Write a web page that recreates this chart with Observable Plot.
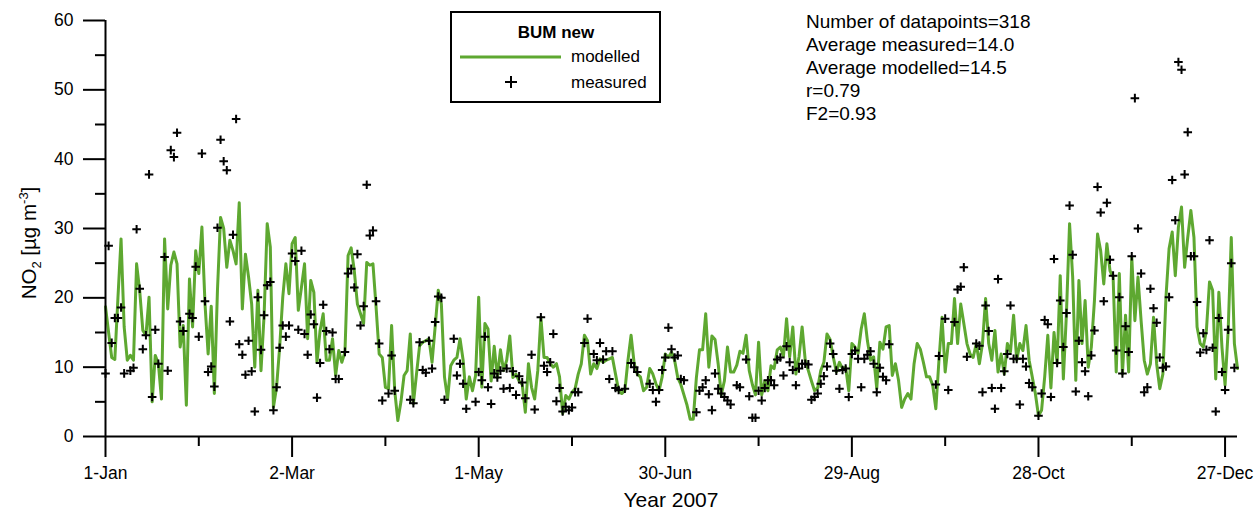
<!DOCTYPE html>
<html><head><meta charset="utf-8">
<script src="https://cdn.jsdelivr.net/npm/d3@7"></script>
<script src="https://cdn.jsdelivr.net/npm/@observablehq/plot@0.6"></script>
<style>
body{margin:0;background:#fff;}
#chart{width:1259px;height:515px;}
</style></head><body><div id="chart"></div>
<script>
// Modelled NO2, one value per day of 2007 (index = day offset from 1-Jan)
const modelledValues = [
18.7,15.0,11.4,11.1,20.0,28.5,15.8,11.0,11.7,11.0,
24.9,21.0,15.3,14.6,20.1,5.0,11.7,10.5,5.4,28.5,
18.4,24.7,26.6,24.9,12.9,16.0,4.5,22.7,15.8,26.8,
23.5,30.2,19.1,11.9,18.8,6.2,21.1,31.6,30.0,24.4,
28.3,26.8,24.9,33.7,18.4,26.3,23.0,19.1,10.0,21.1,
9.5,17.5,30.7,27.3,4.2,7.1,12.9,20.1,24.9,20.6,
27.8,28.7,18.2,21.5,24.9,14.1,22.5,20.8,10.7,15.3,
17.7,11.0,11.0,14.1,8.8,12.4,10.7,12.2,26.1,27.2,
23.9,19.1,17.7,16.3,25.1,24.7,24.9,18.7,11.9,11.4,
7.1,6.9,16.0,6.6,2.3,5.0,8.8,9.5,14.8,4.7,
9.0,13.1,13.6,13.8,14.1,10.7,15.8,21.1,19.1,8.6,
5.4,10.2,11.0,11.4,14.1,11.0,5.4,8.6,6.6,8.8,
20.1,7.1,16.3,15.5,8.0,13.0,8.5,12.5,9.5,11.0,
14.5,8.5,9.0,8.0,7.5,3.5,10.5,7.1,5.4,9.5,
17.2,11.4,11.4,10.5,10.0,10.5,8.6,3.3,5.9,5.4,
6.4,6.9,9.0,10.5,14.6,13.8,9.0,10.5,9.8,11.2,
10.7,11.0,11.2,11.4,9.0,6.6,6.2,6.6,11.0,14.6,
10.5,9.0,8.6,6.6,7.1,9.8,9.0,7.6,6.6,8.6,
11.9,11.4,12.2,11.0,8.5,7.5,6.0,4.5,2.5,2.5,
8.5,12.5,12.5,17.7,10.0,14.5,14.0,10.5,6.0,8.0,
12.9,9.3,9.3,10.3,12.3,12.0,14.6,9.5,7.5,6.0,
13.6,6.0,8.0,6.6,10.2,9.8,12.5,12.9,11.6,17.0,
11.5,15.8,9.0,11.5,15.8,11.0,9.5,8.0,6.6,7.0,
9.5,10.7,14.8,14.0,11.5,9.3,10.7,9.8,10.0,6.6,
13.4,12.9,12.0,15.5,17.7,13.8,11.0,11.5,6.9,13.6,
12.6,15.8,16.0,8.8,10.5,8.1,4.2,5.4,6.2,5.4,
10.5,13.4,12.6,10.7,8.6,8.6,7.4,4.0,11.0,17.2,
9.3,13.4,13.4,19.9,13.4,19.1,16.3,13.4,11.9,11.4,
13.4,10.5,13.4,19.9,13.4,11.0,15.3,9.3,11.9,9.0,
13.4,12.2,17.5,11.0,13.4,12.4,16.0,11.0,8.6,6.2,
3.0,3.8,8.6,14.6,7.0,15.0,10.5,23.2,8.3,17.8,
30.7,23.0,8.1,22.5,13.4,19.6,10.0,12.9,19.6,29.2,
26.8,22.0,27.8,23.9,23.0,9.3,23.5,9.0,17.5,9.3,
25.9,16.7,23.0,16.7,11.0,9.0,10.5,17.2,10.5,6.9,
9.0,20.1,27.1,29.5,23.2,30.2,33.1,24.4,28.7,32.6,
28.7,15.8,13.4,12.9,15.3,22.3,21.1,8.3,20.8,12.9,
7.4,15.3,28.7,13.4,9.8
];

// Measured NO2: day offset from 1-Jan and value
const measuredDays = [
0,1,2,3,4,5,6,8,9,10,11,12,13,14,15,16,17,19,20,21,22,23,24,25,27,28,29,30,31,32,33,34,35,36,37,38,39,40,41,42,43,44,45,46,47,48,49,50,51,52,53,54,55,56,57,58,59,
60,61,62,63,64,65,66,67,68,69,70,71,72,73,74,75,77,78,79,80,81,82,83,84,85,86,87,88,89,91,92,93,98,99,101,102,103,104,105,106,107,108,109,112,113,114,115,116,119,
120,121,122,123,124,125,126,127,128,129,130,131,132,133,134,135,137,138,140,141,142,143,144,145,146,147,148,149,150,151,152,154,155,157,158,159,160,161,162,163,164,165,167,169,170,171,175,176,177,178,179,
180,181,182,183,184,185,186,190,191,192,193,194,195,196,197,198,199,200,201,203,204,206,207,208,209,210,211,212,213,214,215,216,217,218,219,220,221,222,223,224,225,226,227,228,229,230,231,232,233,234,235,236,237,238,239,
240,241,242,243,244,245,246,247,248,249,250,251,252,267,268,270,271,273,274,275,276,277,280,281,282,283,284,285,286,287,288,289,290,291,292,293,294,295,296,297,298,
300,301,302,303,304,305,306,307,308,309,310,311,312,313,314,315,316,317,318,319,320,321,322,323,324,325,326,327,328,329,330,331,332,333,334,335,336,337,338,339,340,341,342,343,344,345,346,347,348,349,350,351,352,353,354,355,356,357,358,359,360,361,362,363
];
const measuredValues = [
9.1,27.5,13.5,17.1,17.1,18.6,9.1,9.5,9.9,29.9,21.3,12.6,14.6,37.8,5.7,15.4,10.5,25.9,9.5,41.3,40.3,43.8,16.6,15.2,17.7,17.1,24.5,14.4,40.8,19.5,9.3,10.1,7.2,30.1,42.8,39.7,38.4,16.6,29.1,45.8,13.3,11.8,8.9,13.8,9.4,3.6,20.1,12.5,17.5,21.8,22.3,3.8,7.1,12.8,16.0,14.4,16.0,
26.4,25.3,15.4,26.8,14.8,11.8,17.6,16.2,5.6,10.6,19.0,15.2,12.6,15.0,8.3,8.3,12.2,23.5,24.2,21.5,26.3,16.0,18.8,36.3,29.0,29.7,19.5,13.4,5.2,6.2,11.7,6.6,5.3,4.8,13.6,9.6,9.2,13.8,9.8,16.5,20.2,20.0,5.3,14.1,8.8,10.5,7.6,4.0,5.0,
9.3,8.1,14.4,7.1,4.7,9.1,8.5,9.5,6.9,9.8,7.0,9.4,6.0,8.7,7.8,5.5,11.8,3.9,17.2,10.2,9.3,10.7,14.8,5.1,7.0,3.6,4.3,3.8,4.2,6.4,6.4,13.5,17.0,11.9,11.0,13.5,11.1,12.3,8.3,12.3,7.0,6.7,6.9,10.6,10.0,9.3,7.6,6.7,5.0,6.7,9.6,
11.4,15.7,12.6,11.4,11.7,8.3,8.1,3.5,6.6,7.1,8.1,6.1,3.8,9.1,6.9,6.2,5.7,5.2,4.6,7.4,7.1,11.1,5.8,2.7,2.7,6.6,5.2,7.0,8.1,8.1,7.4,11.1,11.4,8.8,13.0,10.7,9.6,7.4,9.8,10.5,10.5,10.4,5.3,5.7,6.2,7.6,8.7,10.1,13.4,11.9,9.5,6.9,9.6,9.8,5.7,
11.9,12.4,11.2,7.1,11.2,11.8,12.3,10.5,6.4,9.9,8.6,8.1,13.3,7.5,11.6,17.0,6.7,16.5,21.2,21.6,24.4,11.5,13.4,13.1,6.4,18.9,15.2,7.0,4.0,22.7,7.0,9.4,11.9,18.9,11.2,11.2,4.6,11.2,10.1,7.7,7.1,
3.0,6.2,16.8,16.2,5.7,25.6,10.6,19.6,12.9,17.8,33.3,26.2,6.5,13.8,10.7,9.4,5.8,11.7,15.3,36.0,32.3,19.5,33.7,25.5,23.2,12.4,20.1,9.1,15.9,12.2,26.0,48.8,30.0,23.5,6.4,7.1,21.3,18.5,16.4,11.4,9.9,10.1,20.1,37.0,31.2,54.0,52.9,37.8,43.9,26.0,26.0,19.4,12.1,14.9,12.5,28.3,12.8,3.6,17.1,9.3,6.7,15.4,25.0,9.9
];

const xMajorTicks = [0, 60, 120, 180, 240, 300, 360];
const xTickLabels = ["1-Jan", "2-Mar", "1-May", "30-Jun", "29-Aug", "28-Oct", "27-Dec"];
const xMinorTicks = [30, 90, 150, 210, 270, 330];
const yMajorTicks = [0, 10, 20, 30, 40, 50, 60];
const yMinorTicks = [5, 15, 25, 35, 45, 55];
const statsLines = ["Number of datapoints=318", "Average measured=14.0", "Average modelled=14.5", "r=0.79", "F2=0.93"];
const legendTitle = "BUM new";
const seriesNames = ["modelled", "measured"];
const xTitle = "Year 2007";

const green = "#5ea831";
const font = '"Liberation Sans", Arial, Helvetica, sans-serif';

const modelled = modelledValues.map((v, i) => ({day: i, value: v}));
const measured = measuredDays.map((d, i) => ({day: d, value: measuredValues[i]}));

const plusSymbol = {
  draw(ctx, size) {
    const r = Math.sqrt(size / Math.PI);
    ctx.moveTo(-r, 0); ctx.lineTo(r, 0);
    ctx.moveTo(0, -r); ctx.lineTo(0, r);
  }
};

const chart = Plot.plot({
  width: 1259, height: 515,
  marginLeft: 105, marginRight: 22, marginTop: 20, marginBottom: 79,
  style: {fontFamily: font, fontSize: "17.5px", color: "#000", background: "#fff"},
  x: {domain: [0, 364]},
  y: {domain: [0, 60]},
  marks: [
    Plot.line(modelled, {x: "day", y: "value", stroke: green, strokeWidth: 3, strokeLinejoin: "round"}),
    Plot.dot(measured, {x: "day", y: "value", symbol: plusSymbol, r: 4.3, stroke: "#000", strokeWidth: 2, fill: "none"}),
    Plot.ruleY([0], {stroke: "#000", strokeWidth: 2}),
    Plot.ruleX([0], {y1: 0, y2: 60, stroke: "#000", strokeWidth: 2}),
    Plot.axisX(xMajorTicks, {tickSize: 21, tickPadding: 9, strokeWidth: 2, label: null, fontSize: 17.5,
      tickFormat: d => xTickLabels[xMajorTicks.indexOf(d)]}),
    Plot.axisX(xMinorTicks, {tickSize: 10, strokeWidth: 2, label: null, tickFormat: () => ""}),
    Plot.axisY(yMajorTicks, {tickSize: 22, tickPadding: 10, strokeWidth: 2, label: null, fontSize: 17.5}),
    Plot.axisY(yMinorTicks, {tickSize: 10, strokeWidth: 2, label: null, tickFormat: () => ""})
  ]
});

const svg = d3.select(chart);
svg.style("font-family", font);

// y-axis title with subscript / superscript
const yt = svg.append("text")
  .attr("transform", "translate(36,243) rotate(-90)")
  .attr("text-anchor", "middle").attr("font-size", 20.5).attr("fill", "#000");
yt.append("tspan").text("NO");
yt.append("tspan").attr("font-size", 13).attr("dy", 5).text("2");
yt.append("tspan").attr("dy", -5).text(" [µg m");
yt.append("tspan").attr("font-size", 13).attr("dy", -8).text("-3");
yt.append("tspan").attr("dy", 8).text("]");

// x-axis title
svg.append("text").attr("x", 671).attr("y", 507).attr("text-anchor", "middle")
  .attr("font-size", 21).attr("fill", "#000").text(xTitle);

// statistics block
const st = svg.append("g").attr("font-size", 19).attr("fill", "#000").attr("text-anchor", "start");
statsLines.forEach((s, i) => {
  st.append("text").attr("x", 806).attr("y", 28 + i * 23).text(s);
});

// legend
const lg = svg.append("g").attr("text-anchor", "start");
lg.append("rect").attr("x", 451).attr("y", 12).attr("width", 209).attr("height", 90)
  .attr("fill", "#fff").attr("stroke", "#000").attr("stroke-width", 2);
lg.append("text").attr("x", 556).attr("y", 38).attr("text-anchor", "middle")
  .attr("font-size", 17).attr("font-weight", "bold").text(legendTitle);
lg.append("line").attr("x1", 460).attr("x2", 561).attr("y1", 57).attr("y2", 57)
  .attr("stroke", green).attr("stroke-width", 3);
lg.append("text").attr("x", 571).attr("y", 62).attr("font-size", 17).text(seriesNames[0]);
lg.append("path").attr("d", "M505,82H517M511,76V88").attr("stroke", "#000").attr("stroke-width", 2);
lg.append("text").attr("x", 571).attr("y", 88).attr("font-size", 17).text(seriesNames[1]);

document.getElementById("chart").appendChild(chart);
</script>
</body></html>
